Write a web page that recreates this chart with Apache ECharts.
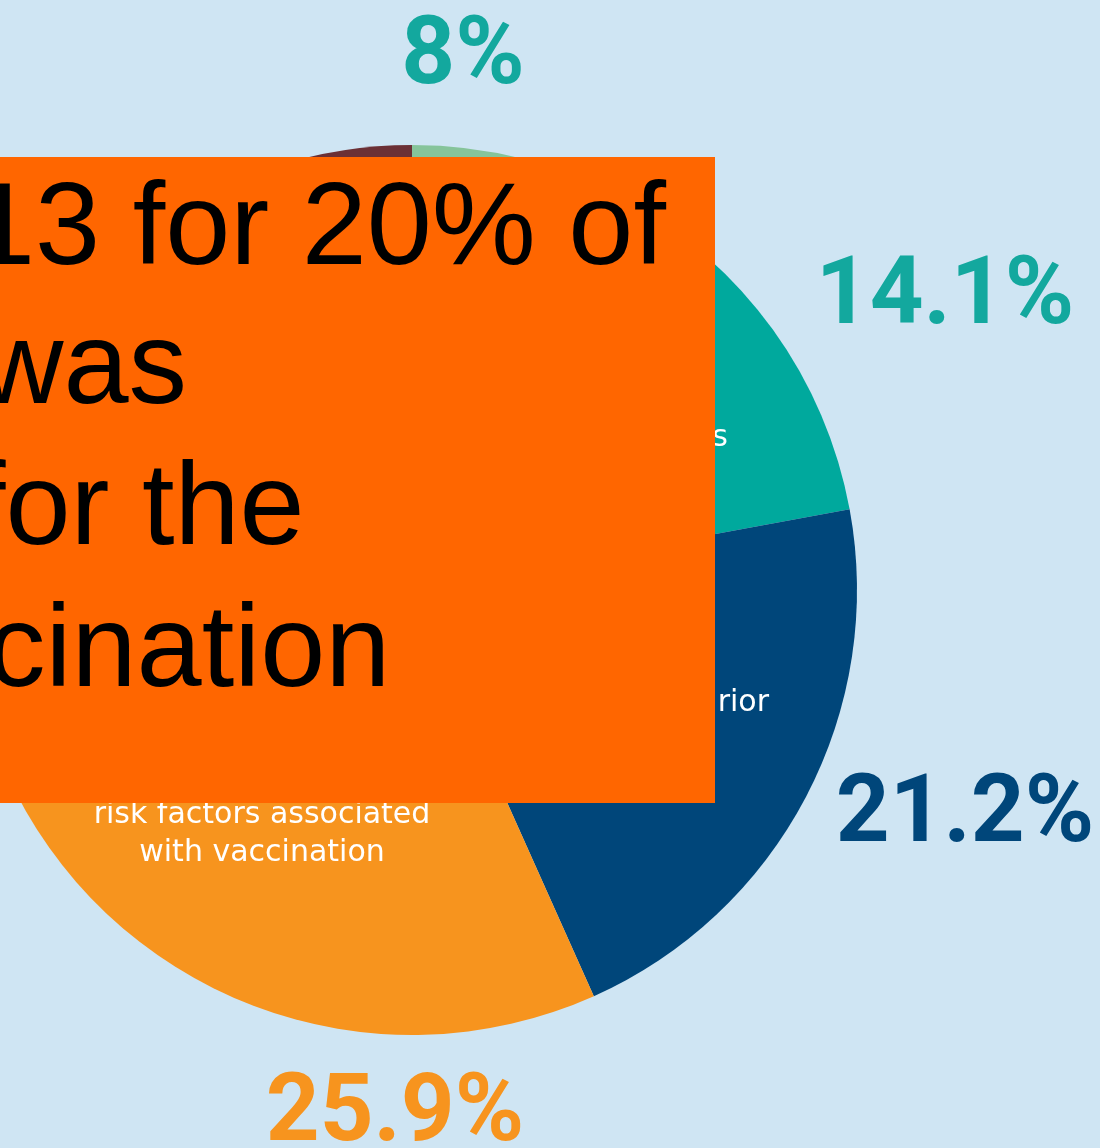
<!DOCTYPE html>
<html>
<head>
<meta charset="utf-8">
<script src="https://cdn.jsdelivr.net/npm/echarts@6/dist/echarts.min.js"></script>
<style>
  html, body { margin: 0; padding: 0; background: #cfe5f3; }
  #main { width: 1100px; height: 1148px; }
</style>
</head>
<body>
<div id="main"></div>
<script>
// slices, clockwise from 12 o'clock
const categories = ['', 's', 'rior', 'risk factors associated\nwith vaccination', '', ''];
const shares = [8, 14.1, 21.2, 25.9, 25.8, 5.0];
const showPct = [true, true, true, true, false, false];
const sliceColors = ['#86c49a', '#00a99d', '#00467a', '#f7941e', '#5b8fb0', '#6b3035'];
const pctColors = ['#13a89e', '#13a89e', '#00467a', '#f7941e', '#000', '#000'];

// where the label text sits (layout only)
const pctPos = [[463, 59], [945, 299], [965, 817], [395, 1116], null, null];
const innerPos = [null, [728, 438, 'right'], [769, 703, 'right'], [262, 834, 'center'], null, null];

// overlay box with the clipped sentence
const overlayLines = ['13 for 20% of', 'was', 'for the', 'cination'];
const overlayX = [-30, -21, -27, -13];
const overlayY = [232, 371, 512, 654];

const myChart = echarts.init(document.getElementById('main'));

const pieData = shares.map((v, i) => ({
    name: categories[i],
    value: v,
    itemStyle: {color: sliceColors[i]}
}));

const option = {
    backgroundColor: '#cfe5f3',
    animation: false,
    series: [{
        type: 'pie',
        center: [412, 590],
        radius: [0, 445],
        startAngle: 90,
        clockwise: true,
        silent: true,
        avoidLabelOverlap: false,
        label: {
            show: true,
            position: 'inside',
            color: '#fff',
            fontFamily: 'DejaVu Sans',
            fontSize: 30,
            lineHeight: 38,
            formatter: p => categories[p.dataIndex]
        },
        labelLine: {show: false},
        labelLayout: p => {
            const pos = innerPos[p.dataIndex];
            if (!pos) return {x: -1000, y: -1000};
            return {x: pos[0], y: pos[1], align: pos[2], verticalAlign: 'middle'};
        },
        data: pieData
    }, {
        type: 'pie',
        center: [412, 590],
        radius: [0, 445],
        startAngle: 90,
        clockwise: true,
        silent: true,
        avoidLabelOverlap: false,
        itemStyle: {color: 'rgba(0,0,0,0)'},
        label: {
            show: true,
            position: 'outside',
            fontFamily: 'Roboto',
            fontWeight: 'bold',
            fontSize: 94,
            formatter: p => showPct[p.dataIndex] ? p.value + '%' : ''
        },
        labelLine: {show: false},
        labelLayout: p => {
            const pos = pctPos[p.dataIndex];
            if (!pos) return {x: -1000, y: -1000};
            return {x: pos[0], y: pos[1], align: 'center', verticalAlign: 'middle'};
        },
        data: shares.map((v, i) => ({
            name: categories[i],
            value: v,
            itemStyle: {color: 'rgba(0,0,0,0)'},
            label: {color: pctColors[i]}
        }))
    }],
    graphic: [{
        type: 'rect',
        z: 100,
        shape: {x: 0, y: 157, width: 715, height: 646},
        style: {fill: '#ff6600'}
    }].concat(overlayLines.map((t, i) => ({
        type: 'text',
        z: 101,
        x: overlayX[i],
        y: overlayY[i],
        style: {
            text: t,
            fill: '#000',
            font: '117px "Liberation Sans"',
            verticalAlign: 'middle'
        }
    })))
};

myChart.setOption(option);
</script>
</body>
</html>
